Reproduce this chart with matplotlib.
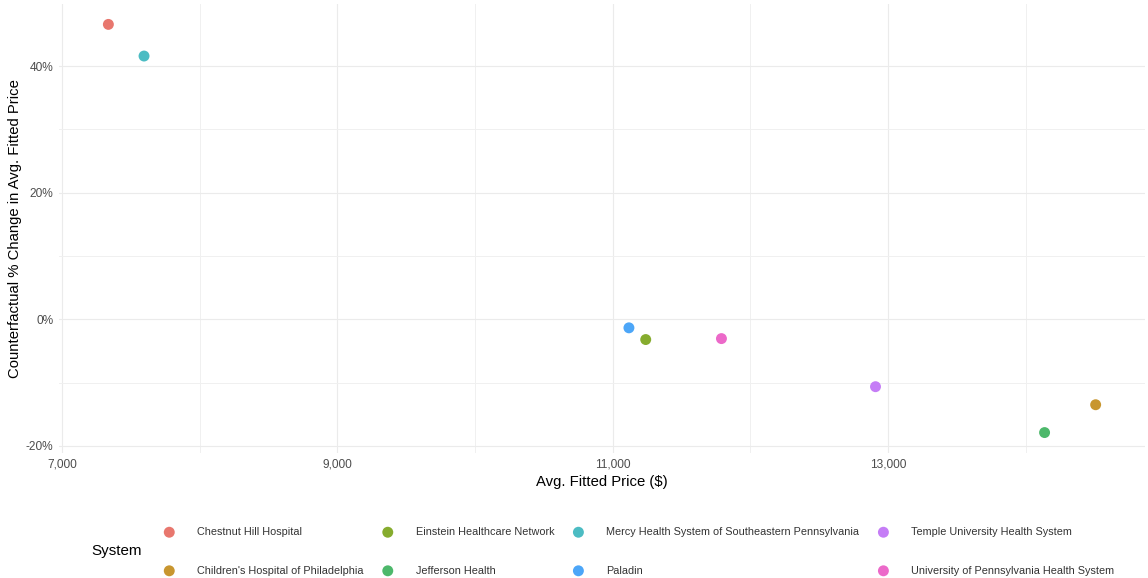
import matplotlib
matplotlib.use("Agg")
import matplotlib.pyplot as plt
from matplotlib.ticker import FixedLocator, FuncFormatter

plt.rcParams["font.family"] = ["Liberation Sans", "DejaVu Sans"]

# data
systems = [
    "Chestnut Hill Hospital",
    "Children's Hospital of Philadelphia",
    "Einstein Healthcare Network",
    "Jefferson Health",
    "Mercy Health System of Southeastern Pennsylvania",
    "Paladin",
    "Temple University Health System",
    "University of Pennsylvania Health System",
]
avg_price = [7337, 14508, 11240, 14137, 7596, 11118, 12909, 11790]
pct_change = [46.6, -13.5, -3.2, -17.9, 41.6, -1.35, -10.65, -3.05]
colors = ["#E8776E", "#C8962F", "#86AC2E", "#4DB86B", "#4CBCC3", "#4CA6F8", "#C57DF6", "#EC69C9"]

x_major = [7000, 9000, 11000, 13000]
x_minor = [8000, 10000, 12000, 14000]
y_major = [-20, 0, 20, 40]
y_minor = [-10, 10, 30]

fig = plt.figure(figsize=(11.48, 5.78), dpi=100)
ax = fig.add_axes([0.0514, 0.2163, 0.9460, 0.7768])

for name, x, y, c in zip(systems, avg_price, pct_change, colors):
    ax.scatter(x, y, s=62, color=c, edgecolors="none", label=name, zorder=3)

ax.margins(x=0.05, y=0.05)
ax.xaxis.set_major_locator(FixedLocator(x_major))
ax.xaxis.set_minor_locator(FixedLocator(x_minor))
ax.yaxis.set_major_locator(FixedLocator(y_major))
ax.yaxis.set_minor_locator(FixedLocator(y_minor))
ax.xaxis.set_major_formatter(FuncFormatter(lambda v, p: f"{v:,.0f}"))
ax.yaxis.set_major_formatter(FuncFormatter(lambda v, p: f"{v:.0f}%"))

ax.grid(which="major", color="#EBEBEB", linewidth=0.8)
ax.grid(which="minor", color="#F0F0F0", linewidth=0.7)
ax.set_axisbelow(True)
for sp in ax.spines.values():
    sp.set_visible(False)
ax.tick_params(which="both", length=0, labelsize=8.6, labelcolor="#4D4D4D", pad=4)

ax.set_xlabel("Avg. Fitted Price ($)", fontsize=10.75, labelpad=3)
ax.set_ylabel("Counterfactual % Change in Avg. Fitted Price", fontsize=10.75, labelpad=3)

handles, labels = ax.get_legend_handles_labels()
leg = fig.legend(
    handles, labels, ncol=4, loc="upper left",
    bbox_to_anchor=(0.1332, 0.0975),
    fontsize=7.85, frameon=False, borderpad=0, handlelength=2.0,
    handletextpad=1.57, columnspacing=1.2, labelspacing=2.62,
    scatterpoints=1,
)
for t in leg.get_texts():
    t.set_color("#333333")
fig.text(0.080, 1 - 551 / 578, "System", fontsize=10.9, va="center", ha="left")

fig.savefig("out.png", dpi=100)
